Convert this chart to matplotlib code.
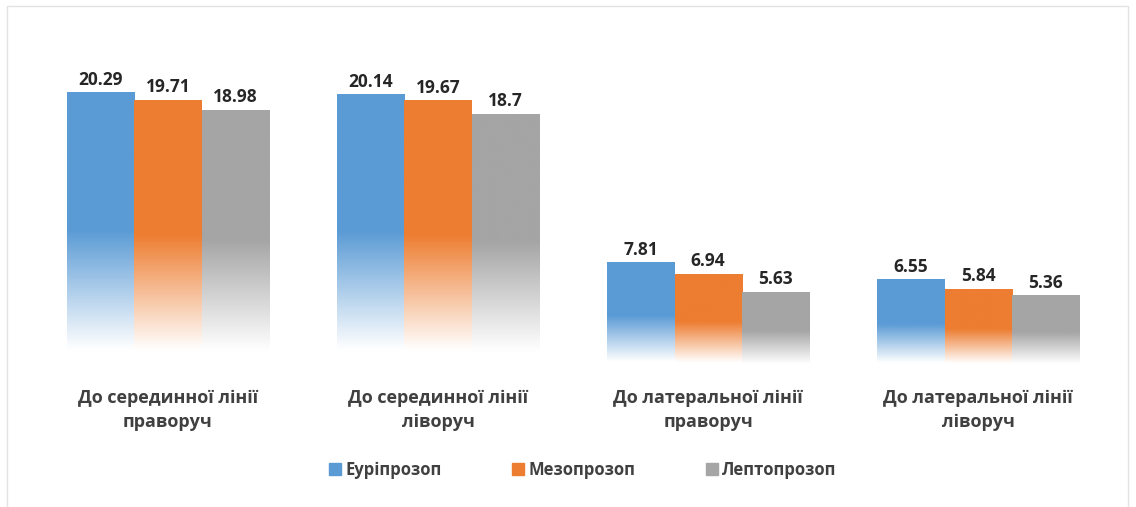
import numpy as np
import matplotlib.pyplot as plt
from matplotlib.colors import to_rgb
from matplotlib.patches import Rectangle

categories = [
    "До серединної лінії\nправоруч",
    "До серединної лінії\nліворуч",
    "До латеральної лінії\nправоруч",
    "До латеральної лінії\nліворуч",
]
series_names = ["Еуріпрозоп", "Мезопрозоп", "Лептопрозоп"]
euri = [20.29, 20.14, 7.81, 6.55]
mezo = [19.71, 19.67, 6.94, 5.84]
lepto = [18.98, 18.7, 5.63, 5.36]
colors = ["#5B9BD5", "#ED7D31", "#A5A5A5"]

plt.rcParams["font.family"] = ["Open Sans", "DejaVu Sans"]
TEXT_COLOR = "#404040"


def gradient_image(color, n=256):
    # solid in the upper part, fading to white towards the base
    t = np.linspace(0, 1, n)
    w = np.clip((0.93 - t) / (0.93 - 0.5), 0, 1)
    c = np.array(to_rgb(color))
    rgb = w[:, None] * c + (1 - w[:, None]) * np.ones(3)
    return rgb[:, None, :]


fig = plt.figure(figsize=(11.36, 5.07), dpi=100)
ax = fig.add_axes([0.029, 0.272, 0.951, 0.645])

x = np.arange(len(categories))
width = 0.249
for i, (vals, col) in enumerate(zip([euri, mezo, lepto], colors)):
    bars = ax.bar(x + (i - 1) * width, vals, width, color="none",
                  edgecolor="none", label=series_names[i])
    img = gradient_image(col)
    for b in bars:
        x0, w, h = b.get_x(), b.get_width(), b.get_height()
        ax.imshow(img, extent=(x0, x0 + w, 0, h), aspect="auto",
                  interpolation="bilinear", zorder=2)
        ax.text(x0 + w / 2, h + 0.3, f"{h:g}", ha="center", va="bottom",
                fontsize=12.5, fontweight="bold", color="#262626")

ax.set_xlim(-0.5, len(categories) - 0.5)
ax.set_ylim(0, 24)
ax.set_xticks(x)
ax.set_xticklabels(categories, fontsize=13, fontweight="bold",
                   color=TEXT_COLOR, linespacing=1.45)
ax.tick_params(axis="x", length=0, pad=14)
ax.set_yticks([])
for s in ax.spines.values():
    s.set_visible(False)

handles = [Rectangle((0, 0), 1, 1, color=c) for c in colors]
fig.legend(handles, series_names, loc="center", bbox_to_anchor=(0.513, 0.073),
           ncol=3, frameon=False, handlelength=0.75, handleheight=0.75,
           handletextpad=0.25, columnspacing=4.2,
           prop={"size": 12, "weight": "bold"}, labelcolor=TEXT_COLOR)

# thin outer frame
fig.add_artist(Rectangle((0.006, -0.01), 0.987, 0.998, transform=fig.transFigure,
                         fill=False, edgecolor="#E3E3E3", linewidth=1.0))

fig.savefig("out.png", dpi=100)
